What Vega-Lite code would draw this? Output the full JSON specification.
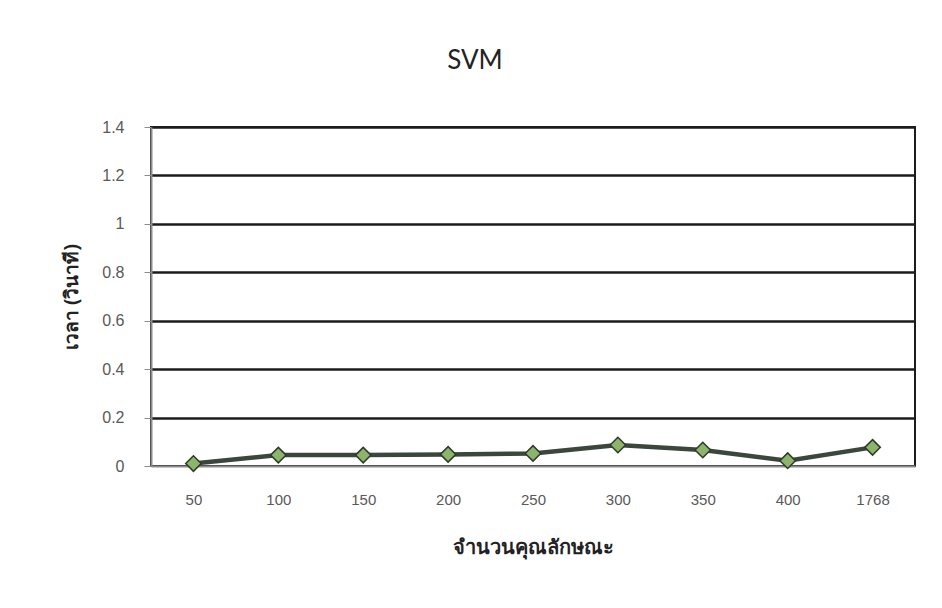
{
  "$schema": "https://vega.github.io/schema/vega-lite/v6.json",
  "width": 764,
  "height": 339,
  "autosize": {"type": "none"},
  "padding": {"left": 151, "top": 127, "right": 27, "bottom": 142},
  "background": "#ffffff",
  "title": {
    "text": "SVM",
    "font": "Lato",
    "fontSize": 26,
    "fontWeight": "normal",
    "color": "#222222",
    "anchor": "middle",
    "offset": 55,
    "dy": 10,
    "dx": -58
  },
  "data": {
    "values": [
      {"features": "50", "time": 0.01},
      {"features": "100", "time": 0.045},
      {"features": "150", "time": 0.045},
      {"features": "200", "time": 0.048},
      {"features": "250", "time": 0.052},
      {"features": "300", "time": 0.087},
      {"features": "350", "time": 0.066},
      {"features": "400", "time": 0.022},
      {"features": "1768", "time": 0.077}
    ]
  },
  "encoding": {
    "x": {
      "field": "features",
      "type": "ordinal",
      "sort": null,
      "scale": {"type": "point", "padding": 0.5},
      "axis": {
        "title": "จำนวนคุณลักษณะ",
        "titleFont": "Noto Sans",
        "titleFontSize": 20,
        "titleFontWeight": "bold",
        "titleColor": "#222222",
        "titlePadding": 30,
        "labelAngle": 0,
        "labelFont": "Liberation Sans",
        "labelFontSize": 15,
        "labelFontWeight": "normal",
        "labelColor": "#595959",
        "labelPadding": 26,
        "ticks": false,
        "grid": false,
        "domainColor": "#8c8c8c",
        "domainWidth": 2
      }
    },
    "y": {
      "field": "time",
      "type": "quantitative",
      "scale": {"domain": [0, 1.4], "nice": false},
      "axis": {
        "title": "เวลา (วินาที)",
        "titleFont": "Noto Sans",
        "titleFontSize": 19,
        "titleFontWeight": "bold",
        "titleColor": "#222222",
        "titlePadding": 20,
        "values": [0, 0.2, 0.4, 0.6, 0.8, 1, 1.2, 1.4],
        "format": "~g",
        "labelFont": "Liberation Sans",
        "labelFontSize": 16,
        "labelFontWeight": "normal",
        "labelColor": "#595959",
        "labelPadding": 20,
        "tickSize": 7,
        "tickColor": "#8c8c8c",
        "domainColor": "#8c8c8c",
        "domainWidth": 2,
        "grid": true,
        "gridColor": {"condition": {"test": "datum.value === 0", "value": "transparent"}, "value": "#1c1c1c"},
        "gridWidth": 2.5,
        "gridOpacity": 1
      }
    }
  },
  "layer": [
    {"mark": {"type": "line", "color": "#3b463d", "strokeWidth": 4.5}},
    {"mark": {"type": "point", "shape": "diamond", "size": 240, "filled": true, "fill": "#8cb46a", "stroke": "#2e3a2c", "strokeWidth": 1.5, "opacity": 1}}
  ],
  "config": {
    "view": {"stroke": "#1c1c1c", "strokeWidth": 2}
  }
}
